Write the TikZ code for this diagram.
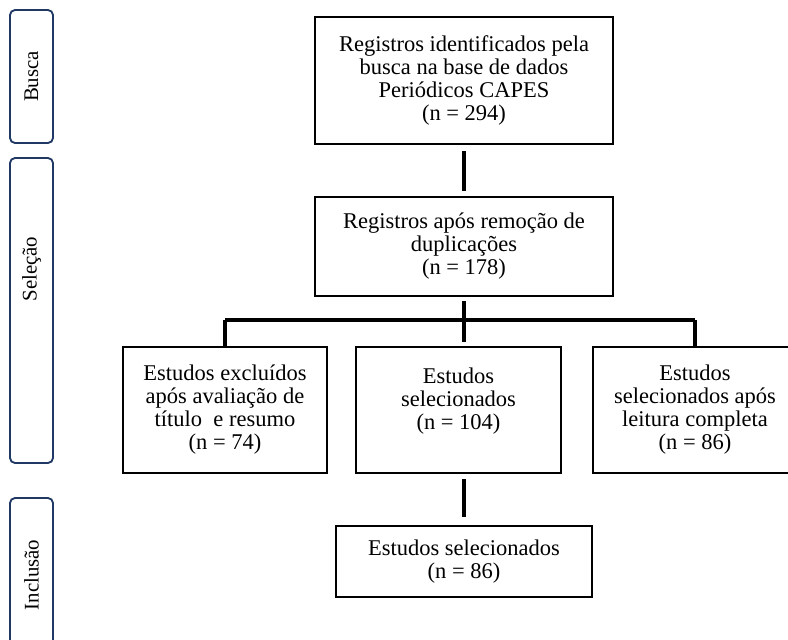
\documentclass[tikz,border=0pt]{standalone}
\usepackage{fontspec}
\setmainfont{Liberation Serif}
\usetikzlibrary{positioning}

\definecolor{phaseblue}{HTML}{1F3864}

\tikzset{
  box/.style={draw, line width=1.2pt, align=center, inner sep=0pt,
    font=\fontsize{13.5}{13.8}\selectfont},
  phasebox/.style={draw=phaseblue, line width=1.1pt, rounded corners=3pt,
    minimum width=25.8pt, inner sep=0pt},
  phaselabel/.style={rotate=90, font=\fontsize{12.5}{14}\selectfont},
  link/.style={line width=2.6pt}
}

\begin{document}
\begin{tikzpicture}[x=0.6pt, y=-0.6pt]
            % Fix the page
            \clip (0,0) rectangle (788,640);

            % Phases on the left
            \node[phasebox, minimum height=79.8pt] (busca) at (31.5,76.5) {};
            \node[phaselabel] (buscatext) at (busca.center) {Busca};
            \node[phasebox, minimum height=183pt] (selecao) at (31.5,310.5) {};
            \node[phaselabel] (selecaotext) at (31.5,269) {Seleção};
            \node[phasebox, minimum height=92.4pt] (inclusao) at (31.5,575) {};
            \node[phaselabel] (inclusaotext) at (inclusao.center) {Inclusão};

            % Place the boxes
            \node[box, minimum width=178.8pt, minimum height=76.2pt] (registros) at (464,80.5)
              {Registros identificados pela\\busca na base de dados\\Periódicos CAPES\\(n = 294)};
            \node[box, minimum width=178.8pt, minimum height=59.4pt] (duplicacoes) at (464,246.5)
              {Registros após remoção de\\duplicações\\(n = 178)};
            \node[box, minimum width=122.4pt, minimum height=75.6pt] (excluidos) at (225,410)
              {Estudos excluídos\\após avaliação de\\título\ \ e resumo\\(n = 74)};
            \node[box, minimum width=123pt, minimum height=75.6pt] (selecionados) at (458.5,410)
              {Estudos\\selecionados\\(n = 104)\\~};
            \node[box, minimum width=122.4pt, minimum height=75.6pt] (completa) at (695,410)
              {Estudos\\selecionados após\\leitura completa\\(n = 86)};
            \node[box, minimum width=153.6pt, minimum height=42.6pt] (final) at (464,561.5)
              {Estudos selecionados\\(n = 86)};

            % Branch point
            \coordinate (branch) at (464,320);

            % Draw the connectors
            \draw[link, shorten <=3.6pt, shorten >=3pt] (registros) -- (duplicacoes);
            \draw[link, shorten <=2.4pt, shorten >=2.4pt] (duplicacoes.south -| branch) -- (selecionados.north -| branch);
            \draw[link] (excluidos.north |- branch) -- (completa.north |- branch);
            \draw[link] (excluidos.north |- branch) -- (excluidos.north);
            \draw[link] (completa.north |- branch) -- (completa.north);
            \draw[link, shorten <=3pt, shorten >=4.8pt] (final.north |- selecionados.south) -- (final.north);
        \end{tikzpicture}
\end{document}
